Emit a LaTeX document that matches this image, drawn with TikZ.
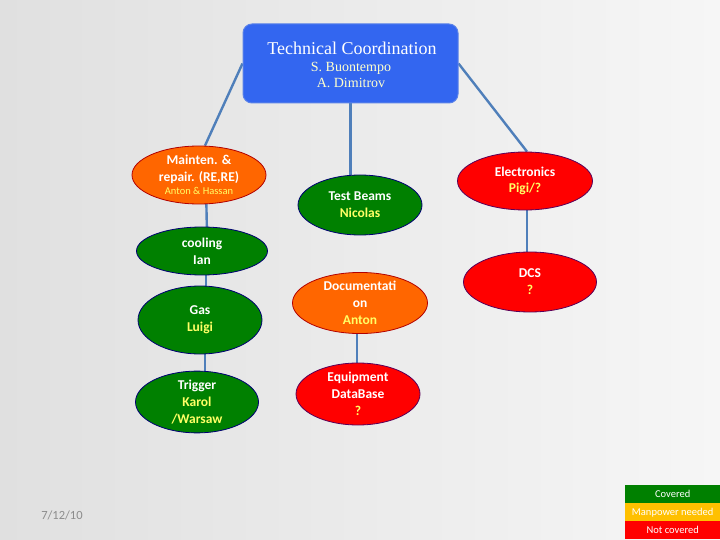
\documentclass[tikz,border=0pt]{standalone}
\usepackage{fontspec}
\setmainfont{Liberation Serif}
\newfontfamily\calfont{Carlito}
\usetikzlibrary{shapes.geometric,calc}
\pgfdeclarelayer{back}
\pgfdeclarelayer{links}
\pgfsetlayers{back,links,main}
\definecolor{bgA}{HTML}{E0E0E0}
\definecolor{bgB}{HTML}{F6F6F6}
\definecolor{topblue}{HTML}{3366F0}
\definecolor{topedge}{HTML}{5A82E8}
\definecolor{conn}{HTML}{4F7FBA}
\definecolor{orgfill}{HTML}{FF6600}
\definecolor{grnfill}{HTML}{008000}
\definecolor{redfill}{HTML}{FF0000}
\definecolor{ambfill}{HTML}{FFC000}
\definecolor{namey}{HTML}{FFFF66}
\definecolor{subt}{HTML}{FFFFCC}
\definecolor{dategray}{HTML}{8C8C8C}
\tikzset{
  x=1pt,y=-1pt,
  blob/.style={ellipse, inner sep=0pt, line width=0.8pt, align=center,
    text=white, font=\calfont\bfseries\fontsize{13.5}{16.8}\selectfont},
  orgblob/.style={blob, fill=orgfill, draw=red!70!black},
  grnblob/.style={blob, fill=grnfill, draw=blue!45!black},
  redblob/.style={blob, fill=redfill, draw=violet!70!black},
  conline/.style={draw=conn, line width=2.4pt},
  leg/.style={minimum width=95pt, minimum height=18pt, inner sep=0pt,
    anchor=north west, text=white, font=\calfont\fontsize{10.5}{11}\selectfont}
}
\newcommand{\nm}[1]{\textcolor{namey}{#1}}
\begin{document}
\begin{tikzpicture}
\begin{pgfonlayer}{back}
\shade[left color=bgA, right color=bgB] (0,0) rectangle (720,540);
\end{pgfonlayer}
\useasboundingbox (0,0) rectangle (720,540);

\node[draw=topedge, line width=1pt, fill=topblue, rounded corners=9pt,
      minimum width=215pt, minimum height=79pt, inner sep=0pt]
  (top) at (350.5,63.5) {};
\node[text=white, font=\fontsize{18}{20}\selectfont] (toptitle) at (352,48) {Technical Coordination};
\node[text=subt, font=\fontsize{14}{16}\selectfont, align=center] (topsub) at (351,75) {S. Buontempo\\A. Dimitrov};

\node[orgblob, minimum width=134pt, minimum height=58pt] (maint) at (199,175)
  {Mainten. \&\\repair. (RE,RE)\\[-3pt]{\fontsize{10.5}{12}\selectfont\mdseries\nm{Anton \& Hassan}}};
\node[grnblob, minimum width=124pt, minimum height=60pt] (tb) at (360,205)
  {Test Beams\\\nm{Nicolas}};
\node[redblob, minimum width=135pt, minimum height=58pt] (elec) at (525,181)
  {Electronics\\\nm{Pigi/?}};
\node[grnblob, minimum width=131pt, minimum height=48pt] (cool) at (202,251)
  {cooling\\Ian};
\node[grnblob, minimum width=124pt, minimum height=68pt] (gas) at (200,320)
  {Gas\\\nm{Luigi}};
\node[grnblob, minimum width=123pt, minimum height=60pt] (trig) at (197,402)
  {Trigger\\\nm{Karol}\\\nm{/Warsaw}};
\node[orgblob, minimum width=135pt, minimum height=57pt] (doc) at (360,303)
  {Documentati\\on\\\nm{Anton}};
\node[redblob, minimum width=124pt, minimum height=62pt] (equip) at (358,394)
  {Equipment\\DataBase\\\nm{?}};
\node[redblob, minimum width=133pt, minimum height=60pt] (dcs) at (530,282)
  {DCS\\\nm{?}};

\begin{pgfonlayer}{links}
\path[conline] (top.west) -- ($(maint.north)+(6,0)$);
\path[conline] (top.south) -- (top.south |- tb.north);
\path[conline] (top.east) -- ($(elec.north)+(2,0)$);
\path[conline] ($(maint.north)+(7,40)$) -- ($(cool.north)+(5,8)$);
\path[conline] ($(cool.south)+(4,-8)$) -- ($(gas.north)+(6,8)$);
\path[conline] ($(gas.south)+(5,-8)$) -- ($(trig.north)+(8,8)$);
\path[conline] ($(elec.south)+(2,-8)$) -- ($(dcs.north)+(-3,8)$);
\path[conline] ($(doc.south)+(-3,-8)$) -- ($(equip.north)+(-1,8)$);
\end{pgfonlayer}

\node[leg, fill=grnfill] (lc) at (625,485) {Covered};
\node[leg, fill=ambfill] (lm) at (625,503) {Manpower needed};
\node[leg, fill=redfill] (ln) at (625,521) {Not covered};

\node[text=dategray, font=\calfont\fontsize{12.5}{14}\selectfont] (date) at (62,515) {7/12/10};
\end{tikzpicture}
\end{document}
